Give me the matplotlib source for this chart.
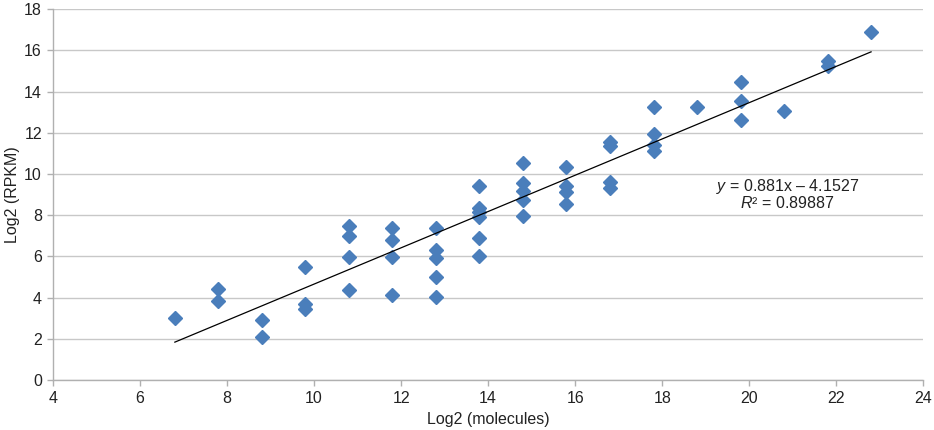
import matplotlib
matplotlib.use("Agg")
import matplotlib.pyplot as plt
import numpy as np

plt.rcParams['font.family'] = ['Liberation Sans', 'DejaVu Sans']
plt.rcParams['mathtext.fontset'] = 'custom'
plt.rcParams['mathtext.rm'] = 'Liberation Sans'
plt.rcParams['mathtext.it'] = 'Liberation Sans:italic'

# Data
x_vals = [6.8,
          7.8, 7.8,
          8.8, 8.8,
          9.8, 9.8, 9.8,
          10.8, 10.8, 10.8, 10.8,
          11.8, 11.8, 11.8, 11.8,
          12.8, 12.8, 12.8, 12.8, 12.8,
          13.8, 13.8, 13.8, 13.8, 13.8, 13.8,
          14.8, 14.8, 14.8, 14.8, 14.8,
          15.8, 15.8, 15.8, 15.8,
          16.8, 16.8, 16.8, 16.8,
          17.8, 17.8, 17.8, 17.8,
          18.8,
          19.8, 19.8, 19.8,
          20.8,
          21.8, 21.8,
          22.8]
y_vals = [3.02,
          4.43, 3.83,
          2.93, 2.09,
          5.50, 3.70, 3.45,
          7.49, 7.00, 5.95, 4.35,
          7.36, 6.82, 5.95, 4.11,
          7.39, 6.31, 5.90, 4.99, 4.01,
          9.42, 8.37, 8.17, 7.90, 6.88, 6.00,
          10.56, 9.58, 9.19, 8.72, 7.98,
          10.35, 9.43, 9.14, 8.54,
          11.54, 11.37, 9.63, 9.31,
          13.27, 11.94, 11.39, 11.12,
          13.27,
          14.45, 13.56, 12.63,
          13.07,
          15.50, 15.26,
          16.88]
slope = 0.881
intercept = -4.1527
r_squared = 0.89887
x_ticks = [4, 6, 8, 10, 12, 14, 16, 18, 20, 22, 24]
y_ticks = [0, 2, 4, 6, 8, 10, 12, 14, 16, 18]

fig = plt.figure(figsize=(9.34, 4.30), dpi=100)
ax = fig.add_axes([53/934, 1 - 380/430, (923.3 - 53)/934, (380 - 9.3)/430])

ax.set_xlim(4, 24)
ax.set_ylim(0, 18)
ax.set_xticks(x_ticks)
ax.set_yticks(y_ticks)

ax.yaxis.grid(True, color='#c8c8c8', linewidth=1.0)
ax.set_axisbelow(True)
for s in ['top', 'right']:
    ax.spines[s].set_visible(False)
for s in ['left', 'bottom']:
    ax.spines[s].set_color('#b0b0b0')
    ax.spines[s].set_linewidth(1.0)
ax.tick_params(axis='both', colors='#b0b0b0', length=4, width=1,
               labelcolor='#222222', labelsize=11.5)
ax.tick_params(axis='x', pad=4)
ax.tick_params(axis='y', pad=4)

ax.plot(x_vals, y_vals, linestyle='none', marker='D', markersize=7,
        color='#4a7ebb', markeredgecolor='#4a7ebb', zorder=3)

xl = np.array([min(x_vals), max(x_vals)])
ax.plot(xl, slope * xl + intercept, color='black', linewidth=0.9, zorder=4)

ax.text(20.87, 9.42, r"$\mathit{y}$ = %.3fx – %.4f" % (slope, -intercept),
        ha='center', va='center', fontsize=11.5, color='#222222')
ax.text(20.87, 8.58, r"$\mathit{R}$² = %.5f" % r_squared,
        ha='center', va='center', fontsize=11.5, color='#222222')

ax.set_xlabel('Log2 (molecules)', fontsize=11.5, color='#222222', labelpad=4)
ax.set_ylabel('Log2 (RPKM)', fontsize=11.5, color='#222222')
ax.yaxis.set_label_coords(-0.046, 0.5)
ax.yaxis.label.set_va('center')

fig.savefig('out.png', dpi=100)
